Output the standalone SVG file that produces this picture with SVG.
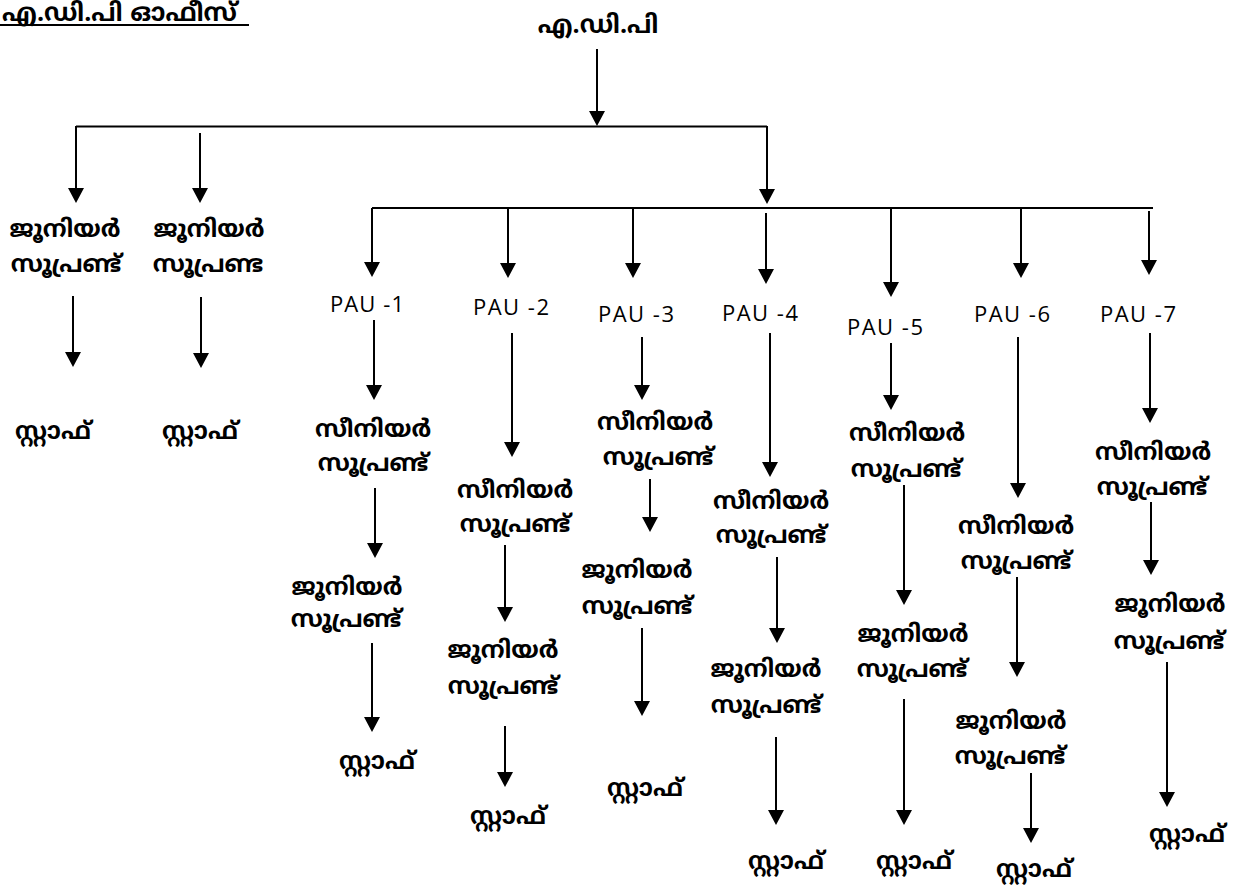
<svg xmlns="http://www.w3.org/2000/svg" width="1239" height="888" viewBox="0 0 1239 888">
<style>
.ml{font-family:"Noto Sans Malayalam","Noto Sans","DejaVu Sans",sans-serif;font-weight:bold;font-size:24px;text-anchor:middle;fill:#000}
.pau{font-family:"Open Sans","Liberation Sans",sans-serif;font-size:22px;text-anchor:middle;fill:#000}
.c line{stroke:#000;stroke-width:2;fill:none}
.c line.a{marker-end:url(#ah)}
</style>
<defs>
<marker id="ah" markerUnits="userSpaceOnUse" viewBox="0 0 15 16" refX="12" refY="8" markerWidth="15" markerHeight="16" orient="auto">
<path d="M0,0 L15,8 L0,16 Z" fill="#000"/>
</marker>
</defs>
<rect width="1239" height="888" fill="#fff"/>
<g id="title">
<text class="ml" x="2" y="21" style="text-anchor:start;font-size:25px">എ.ഡി.പി ഓഫീസ്</text>
<line x1="0" y1="25" x2="249" y2="25" stroke="#000" stroke-width="2"/>
</g>
<g id="adp"><text class="ml" x="598" y="33" style="font-size:25px">എ.ഡി.പി</text></g>
<g id="j1"><text class="ml" x="65" y="237">ജൂനിയർ</text><text class="ml" x="66" y="272">സൂപ്രണ്ട്</text></g>
<g id="s1"><text class="ml" x="53" y="439">സ്റ്റാഫ്</text></g>
<g id="j2"><text class="ml" x="209" y="237">ജൂനിയർ</text><text class="ml" x="208" y="272">സൂപ്രണ്ട</text></g>
<g id="s2"><text class="ml" x="200" y="439">സ്റ്റാഫ്</text></g>
<g id="pau1"><text class="pau" x="367" y="312" textLength="74" lengthAdjust="spacing">PAU -1</text></g>
<g id="pau2"><text class="pau" x="511" y="315" textLength="76" lengthAdjust="spacing">PAU -2</text></g>
<g id="pau3"><text class="pau" x="636" y="322" textLength="76" lengthAdjust="spacing">PAU -3</text></g>
<g id="pau4"><text class="pau" x="760" y="321" textLength="76" lengthAdjust="spacing">PAU -4</text></g>
<g id="pau5"><text class="pau" x="885" y="335" textLength="76" lengthAdjust="spacing">PAU -5</text></g>
<g id="pau6"><text class="pau" x="1012" y="322" textLength="76" lengthAdjust="spacing">PAU -6</text></g>
<g id="pau7"><text class="pau" x="1138" y="322" textLength="76" lengthAdjust="spacing">PAU -7</text></g>
<g id="ss1"><text class="ml" x="373" y="437">സീനിയർ</text><text class="ml" x="373" y="471">സൂപ്രണ്ട്</text></g>
<g id="ss2"><text class="ml" x="515" y="498">സീനിയർ</text><text class="ml" x="515" y="532">സൂപ്രണ്ട്</text></g>
<g id="ss3"><text class="ml" x="655" y="430">സീനിയർ</text><text class="ml" x="658" y="465">സൂപ്രണ്ട്</text></g>
<g id="ss4"><text class="ml" x="771" y="509">സീനിയർ</text><text class="ml" x="771" y="543">സൂപ്രണ്ട്</text></g>
<g id="ss5"><text class="ml" x="907" y="441">സീനിയർ</text><text class="ml" x="906" y="477">സൂപ്രണ്ട്</text></g>
<g id="ss6"><text class="ml" x="1016" y="534">സീനിയർ</text><text class="ml" x="1016" y="569">സൂപ്രണ്ട്</text></g>
<g id="ss7"><text class="ml" x="1153" y="460">സീനിയർ</text><text class="ml" x="1152" y="495">സൂപ്രണ്ട്</text></g>
<g id="js1"><text class="ml" x="347" y="595">ജൂനിയർ</text><text class="ml" x="346" y="627">സൂപ്രണ്ട്</text></g>
<g id="js2"><text class="ml" x="503" y="658">ജൂനിയർ</text><text class="ml" x="503" y="694">സൂപ്രണ്ട്</text></g>
<g id="js3"><text class="ml" x="637" y="578">ജൂനിയർ</text><text class="ml" x="637" y="614">സൂപ്രണ്ട്</text></g>
<g id="js4"><text class="ml" x="766" y="677">ജൂനിയർ</text><text class="ml" x="766" y="713">സൂപ്രണ്ട്</text></g>
<g id="js5"><text class="ml" x="913" y="642">ജൂനിയർ</text><text class="ml" x="912" y="677">സൂപ്രണ്ട്</text></g>
<g id="js6"><text class="ml" x="1011" y="729">ജൂനിയർ</text><text class="ml" x="1010" y="764">സൂപ്രണ്ട്</text></g>
<g id="js7"><text class="ml" x="1170" y="612">ജൂനിയർ</text><text class="ml" x="1169" y="649">സൂപ്രണ്ട്</text></g>
<g id="st1"><text class="ml" x="377" y="769">സ്റ്റാഫ്</text></g>
<g id="st2"><text class="ml" x="508" y="824">സ്റ്റാഫ്</text></g>
<g id="st3"><text class="ml" x="645" y="796">സ്റ്റാഫ്</text></g>
<g id="st4"><text class="ml" x="786" y="869">സ്റ്റാഫ്</text></g>
<g id="st5"><text class="ml" x="914" y="869">സ്റ്റാഫ്</text></g>
<g id="st6"><text class="ml" x="1034" y="877">സ്റ്റാഫ്</text></g>
<g id="st7"><text class="ml" x="1187" y="842">സ്റ്റാഫ്</text></g>
<g id="connectors" class="c">
<line class="a" x1="597" y1="49" x2="597" y2="123"/>
<line x1="76" y1="126.5" x2="767" y2="126.5"/>
<line class="a" x1="76" y1="126" x2="76" y2="200"/>
<line class="a" x1="200" y1="133" x2="200" y2="200"/>
<line class="a" x1="767" y1="126" x2="767" y2="201"/>
<line x1="372" y1="208" x2="1153" y2="208"/>
<line class="a" x1="73" y1="296" x2="73" y2="364"/>
<line class="a" x1="201" y1="297" x2="201" y2="365"/>
<line class="a" x1="372" y1="208" x2="372" y2="274"/>
<line class="a" x1="508" y1="208" x2="508" y2="275"/>
<line class="a" x1="633" y1="208" x2="633" y2="275"/>
<line class="a" x1="766" y1="213" x2="766" y2="281"/>
<line class="a" x1="891" y1="208" x2="891" y2="294"/>
<line class="a" x1="1021" y1="208" x2="1021" y2="275"/>
<line class="a" x1="1149" y1="211" x2="1149" y2="272"/>
<line class="a" x1="374" y1="320" x2="374" y2="397"/>
<line class="a" x1="375" y1="488" x2="375" y2="555"/>
<line class="a" x1="372" y1="643" x2="372" y2="729"/>
<line class="a" x1="512" y1="333" x2="512" y2="454"/>
<line class="a" x1="505" y1="545" x2="505" y2="619"/>
<line class="a" x1="505" y1="726" x2="505" y2="784"/>
<line class="a" x1="642" y1="337" x2="642" y2="397"/>
<line class="a" x1="650" y1="479" x2="650" y2="529"/>
<line class="a" x1="642" y1="628" x2="642" y2="713"/>
<line class="a" x1="770" y1="333" x2="770" y2="474"/>
<line class="a" x1="777" y1="557" x2="777" y2="640"/>
<line class="a" x1="776" y1="737" x2="776" y2="822"/>
<line class="a" x1="891" y1="343" x2="891" y2="407"/>
<line class="a" x1="904" y1="485" x2="904" y2="602"/>
<line class="a" x1="904" y1="699" x2="904" y2="822"/>
<line class="a" x1="1018" y1="337" x2="1018" y2="495"/>
<line class="a" x1="1017" y1="577" x2="1017" y2="674"/>
<line class="a" x1="1031" y1="773" x2="1031" y2="840"/>
<line class="a" x1="1150" y1="333" x2="1150" y2="420"/>
<line class="a" x1="1151" y1="502" x2="1151" y2="572"/>
<line class="a" x1="1167" y1="662" x2="1167" y2="804"/>
</g>
</svg>
